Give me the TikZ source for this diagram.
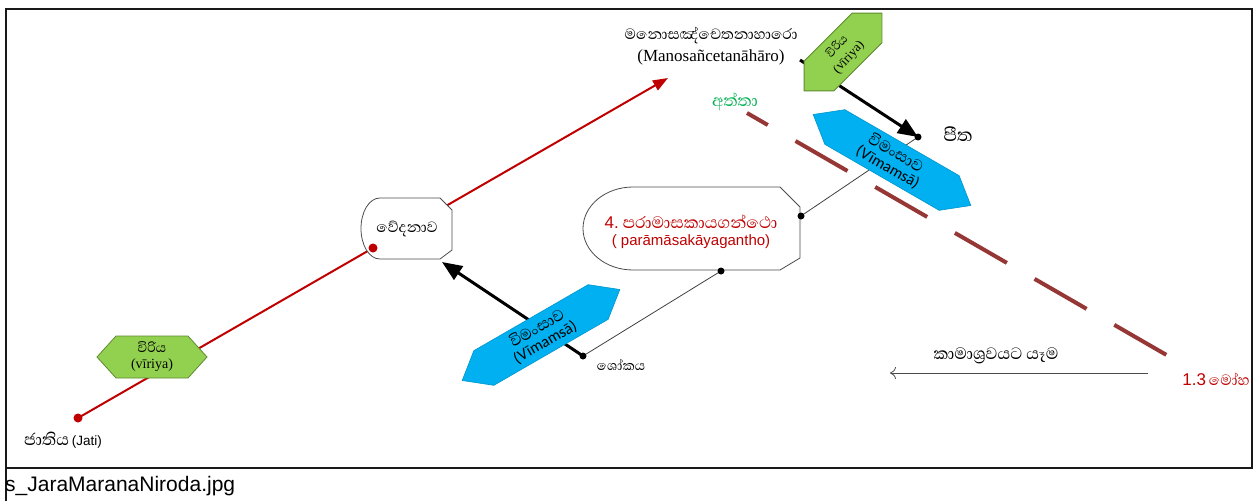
\documentclass[tikz,border=0pt]{standalone}
\usepackage{fontspec}
\setmainfont{Liberation Sans}
\newfontfamily\sinfont[Script=Sinhala]{Abhaya Libre}
\newfontfamily\tmsfont{Liberation Serif}
\newfontfamily\califont{Carlito}
\usetikzlibrary{arrows.meta}
\definecolor{dred}{HTML}{C00000}
\definecolor{brn}{HTML}{953735}
\definecolor{grnf}{HTML}{92D050}
\definecolor{grnd}{HTML}{5E8A2E}
\definecolor{bluf}{HTML}{00B0F0}
\definecolor{grtx}{HTML}{00B050}
\newcommand\fsz[1]{\fontsize{#1}{#1}\selectfont}
\newcommand\hexshape[7]{%
  \begin{scope}[shift={(#1,#2)},rotate=#3]
    \path[#7] (-#4,0) -- (-#4+#6,-#5) -- (#4-#6,-#5) -- (#4,0) -- (#4-#6,#5) -- (-#4+#6,#5) -- cycle;
  \end{scope}}
\begin{document}
\begin{tikzpicture}[x=1pt,y=-1pt,
  frame/.style={line width=2.2pt,black!90},
  redline/.style={dred,line width=2pt},
  blackarrow/.style={black,line width=3pt,-{Triangle[length=20pt,width=16pt]}},
  thinline/.style={black!75,line width=0.8pt},
  dotb/.style={circle,fill=black,inner sep=0pt,minimum size=7pt},
  dotr/.style={circle,fill=dred,inner sep=0pt,minimum size=9pt},
  sintext/.style={font=\sinfont,inner sep=1pt},
  greenhex/.style={fill=grnf,draw=grnd,line width=0.8pt},
  bluehex/.style={fill=bluf,draw=bluf!85!black,line width=0.6pt},
  shapeline/.style={draw=black!70,line width=0.8pt,fill=white}
]
\useasboundingbox (0,0) rectangle (1253,501);
% frame
\draw[frame] (6,501) -- (6,9) -- (1252,9) -- (1252,468);
\draw[frame] (6,468) -- (1253,468);
\node[anchor=west,inner sep=0pt,font=\fsz{21}] (cap) at (5,486) {s\_JaraMaranaNiroda.jpg};

% coordinates
\coordinate (jd) at (78,418);
\coordinate (vdot) at (373,248);
\coordinate (mtip) at (668,78);
\coordinate (sokad) at (583,356);
\coordinate (vedb) at (442,262);
\coordinate (paradot) at (721,271);
\coordinate (pararight) at (801,216);
\coordinate (pitad) at (918,137);
\coordinate (vstart) at (800,60);
\coordinate (dashA) at (747,113);
\coordinate (dashB) at (1170,357);
\coordinate (kamaR) at (1148,373);
\coordinate (kamaL) at (890,373);

% red line
\draw[redline,-{Triangle[length=15pt,width=11pt]}] (jd) -- (vdot) -- (mtip);

% vedanava shape
\path[shapeline] (380,198) -- (440,198) -- (452,210) -- (452,250) -- (440,259) -- (380,259)
  .. controls (369,259) and (361,245) .. (361,228.5) .. controls (361,212) and (369,198) .. (380,198) -- cycle;
\node[sintext,font=\sinfont\fsz{19}] (ved) at (407,229) {වේදනාව};

% paramasa shape
\path[shapeline] (633,187) -- (780,187) -- (800,207) -- (800,258) -- (780,270) -- (633,270)
  .. controls (605.4,270) and (583,251.4) .. (583,228.5) .. controls (583,205.6) and (605.4,187) .. (633,187) -- cycle;
\node[text=dred,align=center,inner sep=0pt] (para) at (691,232)
  {{\fsz{17}4.}{\sinfont\fsz{21}\ පරාමාසකායගන්ථො}\\[5pt]
   {\fsz{15}( parāmāsakāyagantho)}};

% thin connectors
\draw[thinline] (sokad) -- (paradot);
\draw[thinline] (pitad) -- (pararight);

% dashed line
\draw[brn,line width=4pt,dash pattern=on 60pt off 32pt,dash phase=36pt] (dashA) -- (dashB);

% black arrows
\draw[blackarrow] (sokad) -- (vedb);
\draw[blackarrow] (vstart) -- (pitad);

% hexagons
\hexshape{152}{357}{0}{55}{21}{19}{greenhex}
\node[align=center,inner sep=0pt] (vir1) at (152,357)
  {{\sinfont\fsz{17}විරිය}\\[4pt]{\tmsfont\fsz{14}(vīriya)}};
\hexshape{843}{52}{45}{55}{21}{21}{greenhex}
\node[align=center,inner sep=0pt,rotate=47] (vir2) at (843,52)
  {{\sinfont\fsz{15}විරිය}\\[4pt]{\tmsfont\fsz{13}(vīriya)}};
\hexshape{541}{335}{30}{91}{20}{25}{bluehex}
\node[align=center,inner sep=0pt,rotate=30] (vim1) at (541,335)
  {{\sinfont\fsz{20}විමංසාව}\\[4pt]{\califont\fsz{16}(Vīmamsā)}};
\hexshape{892}{160}{-30}{91}{20}{25}{bluehex}
\node[align=center,inner sep=0pt,rotate=-30] (vim2) at (892,160)
  {{\sinfont\fsz{20}විමංසාව}\\[4pt]{\califont\fsz{16}(Vīmamsā)}};

% dots
\node[dotr] at (jd) {};
\node[dotr] at (vdot) {};
\node[dotb] at (sokad) {};
\node[dotb] at (paradot) {};
\node[dotb] at (pararight) {};
\node[dotb] at (pitad) {};

% texts
\node[inner sep=0pt] (jati) at (63,440) {{\sinfont\fsz{21}ජාතිය} {\fsz{13.5}(Jati)}};
\node[sintext,font=\sinfont\fsz{17}] (soka) at (621,365) {ශෝකය};
\node[sintext,font=\sinfont\fsz{23}] (pita) at (958,134) {පීත};
\node[sintext,text=grtx,font=\sinfont\fsz{21}] (atta) at (735,102) {අත්තා};
\node[align=center,inner sep=0pt] (mano) at (711,46)
  {{\sinfont\fsz{19}මනොසඤ්චෙතනාහාරො}\\[5pt]{\tmsfont\fsz{17}(Manosañcetanāhāro)}};
\node[sintext,font=\sinfont\fsz{21}] (kama) at (996,356) {කාමාශ්‍රවයට යෑම};
\node[text=dred,inner sep=0pt] (moha) at (1216,379) {{\fsz{17}1.3} {\sinfont\fsz{19}මෝහ}};

\draw[black!70,line width=0.8pt,-{To[length=6pt,width=12pt]}] (kamaR) -- (kamaL);
\end{tikzpicture}
\end{document}
